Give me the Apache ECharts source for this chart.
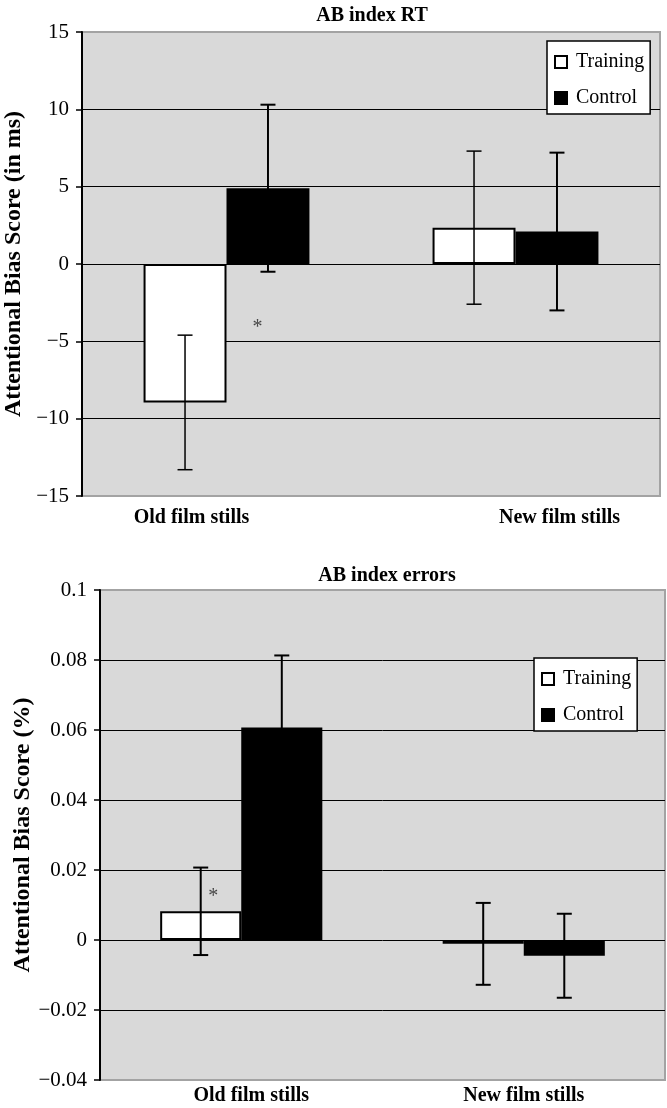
<!DOCTYPE html>
<html><head><meta charset="utf-8">
<script src="https://cdn.jsdelivr.net/npm/echarts@6/dist/echarts.min.js"></script>
<style>html,body{margin:0;padding:0;background:#fff}#c{width:667px;height:1108px}</style>
</head><body><div id="c"></div>
<script>
const categories = ['Old film stills', 'New film stills'];
const seriesNames = ['Training', 'Control'];
// Chart 1: AB index RT (ms)
const rtTraining = [-8.95, 2.35];
const rtTrainingErr = [4.35, 4.95];
const rtControl = [4.9, 2.1];
const rtControlErr = [5.4, 5.1];
const rtSig = [[0, -4.0]];
const rtTicks = [-15, -10, -5, 0, 5, 10, 15];
// Chart 2: AB index errors (%)
const errTraining = [0.0082, -0.0011];
const errTrainingErr = [0.0125, 0.0117];
const errControl = [0.0607, -0.0045];
const errControlErr = [0.0206, 0.012];
const errSig = [[0, 0.013]];
const errTicks = [-0.04, -0.02, 0, 0.02, 0.04, 0.06, 0.08, 0.1];

const FONT = 'Liberation Serif';
const BARW = 0.287;

function fmt(v) {
  const n = +(+v).toFixed(4);
  return n < 0 ? '\u2212' + String(Math.abs(n)) : String(n);
}

function errData(means, errs) {
  return means.map((m, i) => [i, m - errs[i], m + errs[i]]);
}

function errSeries(idx, means, errs, side, width) {
  return {
    type: 'custom', xAxisIndex: idx, yAxisIndex: idx, z: 10, silent: true,
    data: errData(means, errs),
    renderItem: function (params, api) {
      const c = api.value(0);
      const band = api.size([1, 0])[0];
      const off = side * band * BARW / 2;
      const lo = api.coord([c, api.value(1)]);
      const hi = api.coord([c, api.value(2)]);
      const x = lo[0] + off;
      const cap = 7.5;
      const st = { stroke: '#000', lineWidth: width };
      return {
        type: 'group', children: [
          { type: 'line', shape: { x1: x, y1: lo[1], x2: x, y2: hi[1] }, style: st },
          { type: 'line', shape: { x1: x - cap, y1: lo[1], x2: x + cap, y2: lo[1] }, style: st },
          { type: 'line', shape: { x1: x - cap, y1: hi[1], x2: x + cap, y2: hi[1] }, style: st }
        ]
      };
    }
  };
}

function barSeries(idx, name, data, fill) {
  return {
    type: 'bar', name: name, xAxisIndex: idx, yAxisIndex: idx,
    data: data, barWidth: (BARW * 100) + '%', barGap: '0%',
    itemStyle: { color: fill, borderColor: '#000', borderWidth: 2 }
  };
}

function sigSeries(idx, data, dx) {
  return {
    type: 'scatter', xAxisIndex: idx, yAxisIndex: idx, symbolSize: 1, z: 11, silent: true,
    itemStyle: { color: 'rgba(0,0,0,0)' },
    data: data,
    label: { show: true, formatter: '*', position: 'inside', offset: [dx, 2],
      fontFamily: FONT, fontSize: 20, color: '#222' }
  };
}

function yAxis(idx, min, max, interval, name, gap) {
  return {
    type: 'value', gridIndex: idx, min: min, max: max, interval: interval,
    name: name, nameLocation: 'middle', nameGap: gap, nameRotate: 90, nameMoveOverlap: false,
    nameTextStyle: { fontFamily: FONT, fontWeight: 'bold', fontSize: 24, color: '#000' },
    axisLine: { show: true, lineStyle: { color: '#000', width: 2 } },
    axisTick: { show: true, length: 6, lineStyle: { color: '#000', width: 1.5 } },
    axisLabel: { formatter: fmt, fontFamily: FONT, fontSize: 21, color: '#000', margin: 13 },
    splitLine: { show: true, showMinLine: false, showMaxLine: false, lineStyle: { color: '#000', width: 1 } }
  };
}

function xAxis(idx, margin, rich) {
  return {
    type: 'category', gridIndex: idx, data: categories,
    axisLine: { show: false, onZero: false }, axisTick: { show: false },
    axisLabel: {
      margin: margin, interval: 0,
      formatter: (v, i) => '{' + (i === 0 ? 'a' : 'b') + '|' + v + '}',
      rich: {
        a: Object.assign({ fontFamily: FONT, fontWeight: 'bold', fontSize: 20, color: '#000' }, rich.a),
        b: Object.assign({ fontFamily: FONT, fontWeight: 'bold', fontSize: 20, color: '#000' }, rich.b)
      }
    }
  };
}

function legend(left, top) {
  return {
    orient: 'vertical', left: left, top: top, data: seriesNames,
    backgroundColor: '#fff', borderColor: '#000', borderWidth: 1.5,
    padding: [10, 6, 5, 7], itemGap: 14, itemWidth: 12, itemHeight: 12, icon: 'rect',
    selectedMode: false,
    textStyle: { fontFamily: FONT, fontSize: 20, color: '#000', padding: [0, 0, 0, 4], lineHeight: 22 }
  };
}

const chart = echarts.init(document.getElementById('c'));
chart.setOption({
  animation: false,
  backgroundColor: '#fff',
  title: [
    { text: 'AB index RT', left: 367, top: 1, textAlign: 'center',
      textStyle: { fontFamily: FONT, fontWeight: 'bold', fontSize: 20, color: '#000' } },
    { text: 'AB index errors', left: 382, top: 561, textAlign: 'center',
      textStyle: { fontFamily: FONT, fontWeight: 'bold', fontSize: 20, color: '#000' } }
  ],
  legend: [legend(547, 41), legend(534, 658)],
  grid: [
    { left: 82, right: 7, top: 32, bottom: 612, outerBoundsMode: 'none', containLabel: false, show: true, backgroundColor: '#d9d9d9', borderColor: '#a3a3a3', borderWidth: 2 },
    { left: 100, right: 2, top: 590, bottom: 28, outerBoundsMode: 'none', containLabel: false, show: true, backgroundColor: '#d9d9d9', borderColor: '#a3a3a3', borderWidth: 2 }
  ],
  xAxis: [
    xAxis(0, 12, { a: { padding: [0, 70, 0, 0] }, b: { padding: [0, 0, 0, 88] } }),
    xAxis(1, 6, { a: { padding: [0, 0, 0, 20] }, b: {} })
  ],
  yAxis: [
    yAxis(0, rtTicks[0], rtTicks[rtTicks.length - 1], 5, 'Attentional Bias Score (in ms)', 56),
    yAxis(1, errTicks[0], errTicks[errTicks.length - 1], 0.02, 'Attentional Bias Score (%)', 65)
  ],
  series: [
    barSeries(0, 'Training', rtTraining, '#fff'),
    barSeries(0, 'Control', rtControl, '#000'),
    errSeries(0, rtTraining, rtTrainingErr, -1, 1.5),
    errSeries(0, rtControl, rtControlErr, 1, 2),
    sigSeries(0, rtSig, 31),
    barSeries(1, 'Training', errTraining, '#fff'),
    barSeries(1, 'Control', errControl, '#000'),
    errSeries(1, errTraining, errTrainingErr, -1, 2),
    errSeries(1, errControl, errControlErr, 1, 2),
    sigSeries(1, errSig, -28)
  ]
});
</script>
</body></html>
